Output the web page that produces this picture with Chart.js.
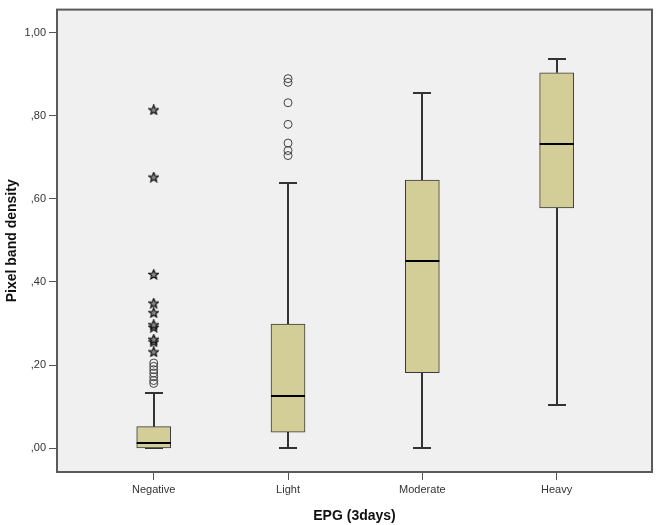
<!DOCTYPE html>
<html>
<head>
<meta charset="utf-8">
<script src="https://cdn.jsdelivr.net/npm/chart.js@4/dist/chart.umd.min.js"></script>
<style>
  html, body { margin: 0; padding: 0; background: #fff; }
  #wrap { width: 658px; height: 525px; }
</style>
</head>
<body>
<div id="wrap"><canvas id="boxChart"></canvas></div>
<script>
const categories = ["Negative", "Light", "Moderate", "Heavy"];
const lowerWhisker = [0, 0, 0, 0.104];
const q1 = [0, 0.039, 0.182, 0.578];
const median = [0.012, 0.126, 0.450, 0.731];
const q3 = [0.052, 0.299, 0.645, 0.903];
const upperWhisker = [0.132, 0.637, 0.855, 0.937];

// outliers (circles) and extremes (stars), per category index
const negCircles = [0.205, 0.197, 0.189, 0.181, 0.172, 0.163, 0.156];
const negStars = [0.232, 0.256, 0.262, 0.291, 0.297, 0.326, 0.349, 0.418, 0.652, 0.814];
const lightCircles = [0.889, 0.880, 0.831, 0.779, 0.734, 0.716, 0.704];

const yTicks = [0, 0.2, 0.4, 0.6, 0.8, 1.0];

// five pointed star used as point style
function makeStar() {
  const c = document.createElement("canvas");
  c.width = 11; c.height = 11;
  const g = c.getContext("2d");
  g.beginPath();
  for (let i = 0; i < 10; i++) {
    const r = i % 2 === 0 ? 5 : 2.2;
    const a = -Math.PI / 2 + i * Math.PI / 5;
    const px = 5.5 + r * Math.cos(a), py = 5.8 + r * Math.sin(a);
    if (i === 0) g.moveTo(px, py); else g.lineTo(px, py);
  }
  g.closePath();
  g.fillStyle = "#888";
  g.fill();
  g.strokeStyle = "#111";
  g.lineWidth = 1.2;
  g.stroke();
  return c;
}
const starImg = makeStar();

const boxPlotPlugin = {
  id: "boxPlot",
  beforeDraw(chart) {
    const { ctx, chartArea: a } = chart;
    ctx.save();
    ctx.fillStyle = "#f0f0f0";
    ctx.fillRect(a.left, a.top, a.right - a.left, a.bottom - a.top);
    ctx.restore();
  },
  beforeDatasetsDraw(chart) {
    const { ctx, scales: { x, y } } = chart;
    ctx.save();
    ctx.strokeStyle = "#333";
    ctx.lineWidth = 2;
    categories.forEach((c, i) => {
      const cx = Math.round(x.getPixelForValue(i));
      const half = 9;
      const segs = [[q3[i], upperWhisker[i]], [lowerWhisker[i], q1[i]]];
      segs.forEach(([a, b]) => {
        ctx.beginPath();
        ctx.moveTo(cx, y.getPixelForValue(a));
        ctx.lineTo(cx, y.getPixelForValue(b));
        ctx.stroke();
      });
      [upperWhisker[i], lowerWhisker[i]].forEach(v => {
        const py = Math.round(y.getPixelForValue(v));
        ctx.beginPath();
        ctx.moveTo(cx - half, py);
        ctx.lineTo(cx + half, py);
        ctx.stroke();
      });
    });
    ctx.restore();
  },
  afterDatasetsDraw(chart) {
    const { ctx, scales: { x, y } } = chart;
    ctx.save();
    ctx.strokeStyle = "#000";
    ctx.lineWidth = 2;
    categories.forEach((c, i) => {
      const cx = x.getPixelForValue(i);
      const py = Math.round(y.getPixelForValue(median[i]));
      ctx.beginPath();
      ctx.moveTo(cx - 17, py);
      ctx.lineTo(cx + 17, py);
      ctx.stroke();
    });
    ctx.restore();
  },
  afterDraw(chart) {
    const { ctx, chartArea: a } = chart;
    ctx.save();
    ctx.strokeStyle = "#5a5a5a";
    ctx.lineWidth = 2;
    ctx.strokeRect(a.left, a.top, a.right - a.left, a.bottom - a.top);
    ctx.restore();
  }
};

const ctx = document.getElementById("boxChart").getContext("2d");

new Chart(ctx, {
  type: "bar",
  data: {
    datasets: [
      {
        label: "circles",
        type: "scatter",
        data: [
          ...negCircles.map(v => ({ x: 0, y: v })),
          ...lightCircles.map(v => ({ x: 1, y: v }))
        ],
        pointStyle: "circle",
        pointRadius: 4,
        pointBorderWidth: 1,
        pointBorderColor: "#444",
        pointBackgroundColor: "rgba(0,0,0,0)"
      },
      {
        label: "stars",
        type: "scatter",
        data: negStars.map(v => ({ x: 0, y: v })),
        pointStyle: starImg,
        pointRadius: 5
      },
      {
        label: "box",
        data: categories.map((c, i) => ({ x: i, y: [q1[i], q3[i]] })),
        backgroundColor: "#d3ce98",
        borderColor: "#3a3a3a",
        borderWidth: 1,
        borderSkipped: false,
        barThickness: 34
      }
    ]
  },
  options: {
    responsive: true,
    maintainAspectRatio: false,
    animation: false,
    layout: { padding: { top: 3, right: 3, left: 0, bottom: 0 } },
    plugins: {
      legend: { display: false },
      tooltip: { enabled: false }
    },
    scales: {
      x: {
        type: "linear",
        offset: false,
        min: -0.72,
        max: 3.71,
        afterFit: s => { s.height = 53; },
        afterBuildTicks: s => { s.ticks = categories.map((c, i) => ({ value: i })); },
        grid: { offset: false, drawOnChartArea: false, drawTicks: true, tickLength: 8, color: "#555" },
        border: { display: false },
        ticks: {
          padding: 3,
          color: "#333",
          font: { family: "'Liberation Sans', Arial, sans-serif", size: 11 },
          callback: v => categories[v]
        },
        title: {
          display: true,
          text: "EPG (3days)",
          color: "#111",
          padding: { top: 3, bottom: 0 },
          font: { family: "'Liberation Sans', Arial, sans-serif", size: 14, weight: "bold" }
        }
      },
      y: {
        min: -0.057,
        max: 1.055,
        afterFit: s => { s.width = 57; },
        afterBuildTicks: s => { s.ticks = yTicks.map(v => ({ value: v })); },
        grid: { drawOnChartArea: false, drawTicks: true, tickLength: 8, color: "#555" },
        border: { display: false },
        ticks: {
          padding: 3,
          color: "#333",
          font: { family: "'Liberation Sans', Arial, sans-serif", size: 11 },
          callback: v => v.toFixed(2).replace(".", ",").replace(/^0/, "")
        },
        title: {
          display: true,
          text: "Pixel band density",
          color: "#111",
          padding: { top: 4, bottom: 0 },
          font: { family: "'Liberation Sans', Arial, sans-serif", size: 14, weight: "bold" }
        }
      }
    }
  },
  plugins: [boxPlotPlugin]
});
</script>
</body>
</html>
